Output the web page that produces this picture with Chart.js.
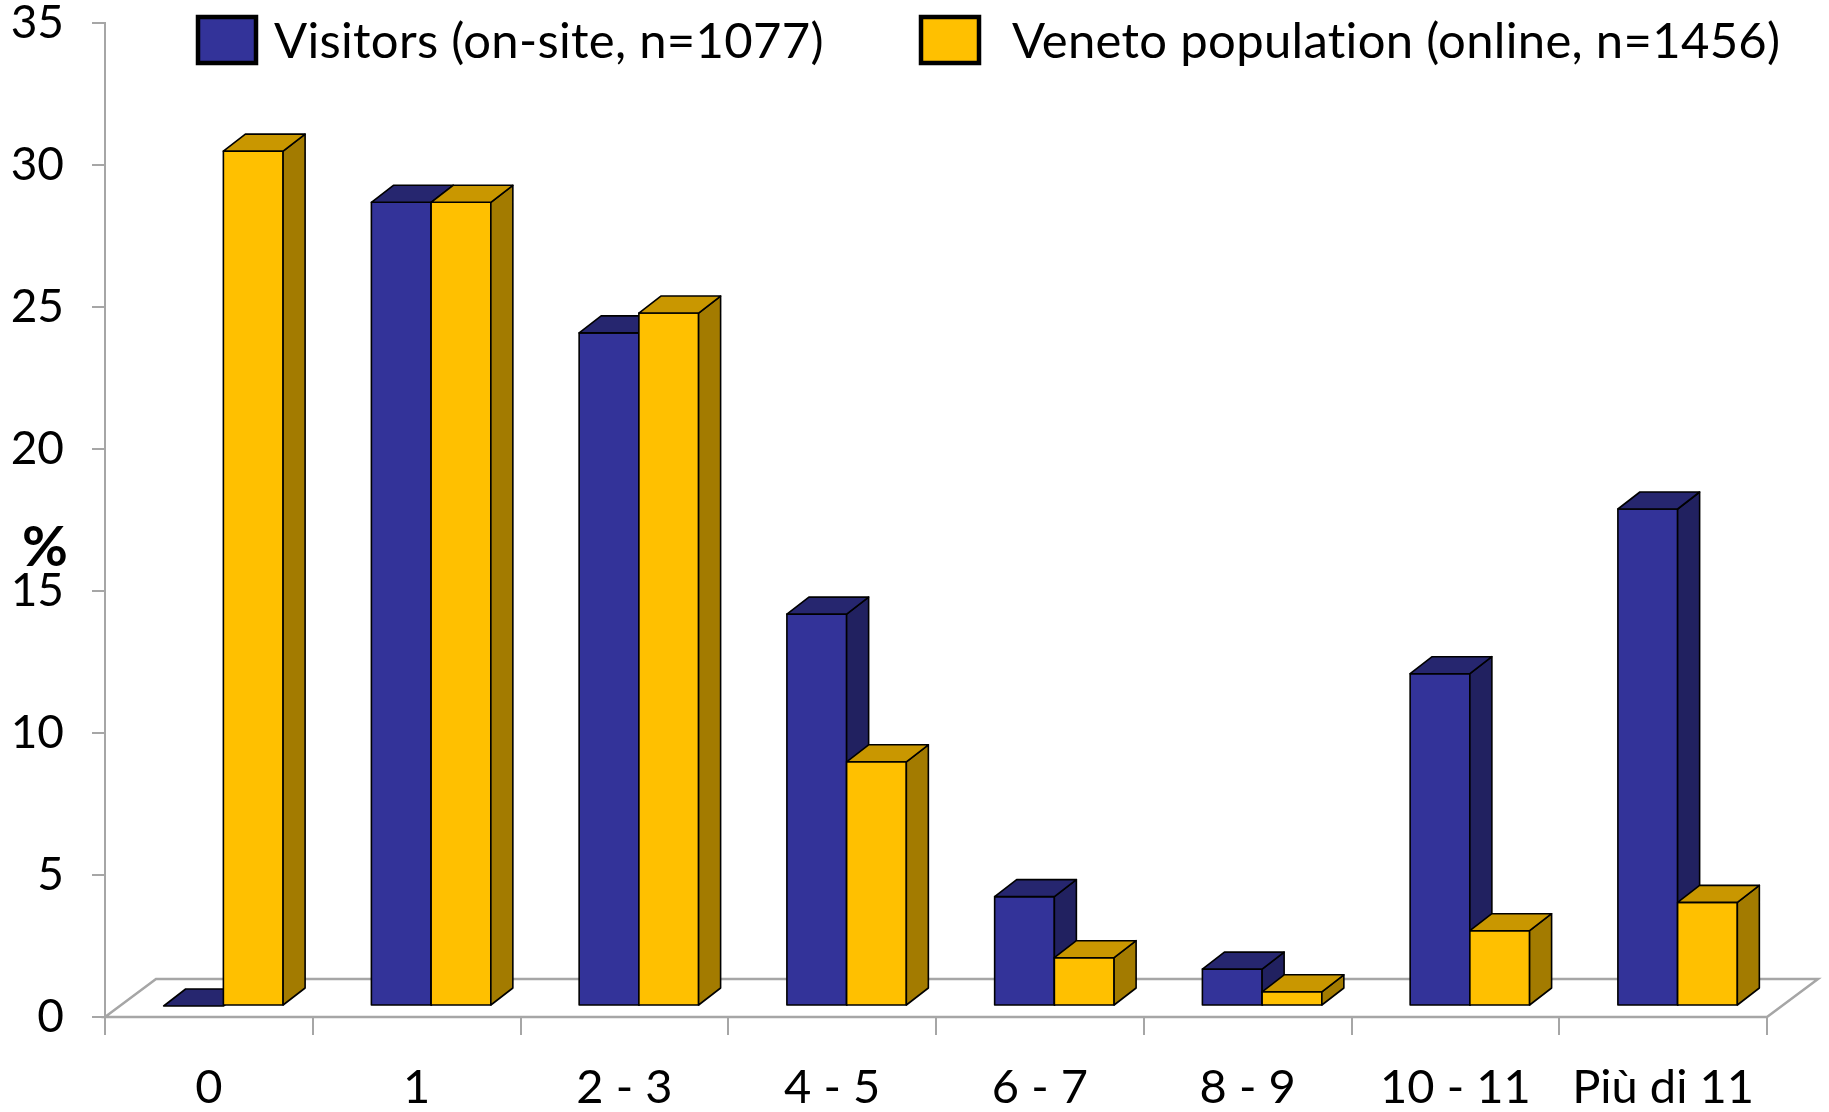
<!DOCTYPE html>
<html>
<head>
<meta charset="utf-8">
<script src="https://cdn.jsdelivr.net/npm/chart.js@4.4.1/dist/chart.umd.min.js"></script>
<style>
  html, body { margin: 0; padding: 0; background: #ffffff; }
  #wrap { width: 1829px; height: 1112px; }
</style>
</head>
<body>
<div id="wrap"><canvas id="c" width="1829" height="1112"></canvas></div>
<script>
// Number of visits, share of respondents (%)
const categories = ['0', '1', '2 - 3', '4 - 5', '6 - 7', '8 - 9', '10 - 11', 'Più di 11'];
const visitors = [0, 28.3, 23.7, 13.8, 3.85, 1.3, 11.7, 17.5];
const veneto = [30.1, 28.3, 24.4, 8.6, 1.7, 0.5, 2.65, 3.65];
const seriesNames = ['Visitors (on-site, n=1077)', 'Veneto population (online, n=1456)'];
const yTicks = [0, 5, 10, 15, 20, 25, 30, 35];

// Face colours per series: front, top, side
const faces = [
  { front: '#333399', top: '#26266f', side: '#212160' },
  { front: '#ffc000', top: '#c99700', side: '#a37b00' }
];

const FONT = 'Lato, "Open Sans", sans-serif';
const AXIS_GREY = '#a6a6a6';

// Perspective offsets (pixels): gap from floor front edge to the bar fronts,
// bar depth, and full floor depth.
const GAP = { dx: 14.5, dy: -11 };
const DEPTH = { dx: 22, dy: -17 };
const FLOOR = { dx: 51, dy: -38 };

function poly(ctx, pts, fill) {
  ctx.beginPath();
  ctx.moveTo(pts[0][0], pts[0][1]);
  for (let k = 1; k < pts.length; k++) ctx.lineTo(pts[k][0], pts[k][1]);
  ctx.closePath();
  ctx.fillStyle = fill;
  ctx.fill();
  ctx.stroke();
}

const boxes3d = {
  id: 'boxes3d',
  beforeDatasetsDraw(chart) {
    const { ctx, chartArea: a } = chart;
    const y0 = chart.scales.y.getPixelForValue(0);
    ctx.save();
    ctx.strokeStyle = AXIS_GREY;
    ctx.lineWidth = 2.5;
    ctx.lineJoin = 'miter';
    ctx.beginPath();
    ctx.moveTo(a.left, y0);
    ctx.lineTo(a.right, y0);
    ctx.lineTo(a.right + FLOOR.dx, y0 + FLOOR.dy);
    ctx.lineTo(a.left + FLOOR.dx, y0 + FLOOR.dy);
    ctx.closePath();
    ctx.stroke();
    ctx.restore();
  },
  beforeDatasetDraw() {
    return false;
  },
  afterDatasetsDraw(chart) {
    const { ctx } = chart;
    const metas = chart.data.datasets.map((d, i) => chart.getDatasetMeta(i));
    ctx.save();
    ctx.strokeStyle = '#000000';
    ctx.lineWidth = 1.6;
    ctx.lineJoin = 'round';
    for (let i = 0; i < categories.length; i++) {
      metas.forEach((meta, s) => {
        const el = meta.data[i];
        const f = faces[s];
        const x0 = el.x - el.width / 2 + GAP.dx;
        const x1 = el.x + el.width / 2 + GAP.dx;
        const yt = el.y + GAP.dy;
        const yb = el.base + GAP.dy;
        if (yb - yt > 0.5) {
          poly(ctx, [[x0, yt], [x1, yt], [x1, yb], [x0, yb]], f.front);
          poly(ctx, [[x1, yt], [x1 + DEPTH.dx, yt + DEPTH.dy], [x1 + DEPTH.dx, yb + DEPTH.dy], [x1, yb]], f.side);
        }
        poly(ctx, [[x0, yt], [x0 + DEPTH.dx, yt + DEPTH.dy], [x1 + DEPTH.dx, yt + DEPTH.dy], [x1, yt]], f.top);
      });
    }
    ctx.restore();
  },
  afterDraw(chart) {
    const { ctx } = chart;
    ctx.save();
    // legend
    const items = [
      { box: 198, text: 274 },
      { box: 921, text: 1012 }
    ];
    ctx.font = '49px ' + FONT;
    ctx.textRendering = 'optimizeSpeed';
    ctx.letterSpacing = '0.3px';
    ctx.textBaseline = 'middle';
    ctx.textAlign = 'left';
    chart.data.datasets.forEach((d, s) => {
      const it = items[s];
      ctx.fillStyle = d.backgroundColor;
      ctx.fillRect(it.box, 17, 58, 46);
      ctx.strokeStyle = '#000000';
      ctx.lineWidth = 4.5;
      ctx.strokeRect(it.box, 17, 58, 46);
      ctx.fillStyle = '#000000';
      ctx.fillText(d.label, it.text, 42);
    });
    // axis unit
    ctx.letterSpacing = '0px';
    ctx.font = 'bold 56px ' + FONT;
    ctx.textAlign = 'center';
    ctx.fillText('%', 45, 548);
    ctx.restore();
  }
};

new Chart(document.getElementById('c'), {
  type: 'bar',
  data: {
    labels: categories,
    datasets: [
      { label: seriesNames[0], data: visitors, backgroundColor: faces[0].front },
      { label: seriesNames[1], data: veneto, backgroundColor: faces[1].front }
    ]
  },
  options: {
    responsive: false,
    animation: false,
    events: [],
    layout: { padding: { top: 23, right: 62, left: 0, bottom: 0 } },
    datasets: { bar: { categoryPercentage: 0.575, barPercentage: 1 } },
    plugins: { legend: { display: false }, tooltip: { enabled: false } },
    scales: {
      x: {
        grid: { offset: true, drawOnChartArea: false, drawTicks: true, tickLength: 18, color: AXIS_GREY, lineWidth: 2 },
        border: { display: false },
        ticks: { color: '#000000', font: { family: FONT, size: 47 }, padding: 25, maxRotation: 0, autoSkip: false },
        afterFit(scale) { scale.height = 95; scale.paddingLeft = 0; scale.paddingRight = 0; }
      },
      y: {
        min: 0,
        max: 35,
        afterBuildTicks(scale) { scale.ticks = yTicks.map(v => ({ value: v })); },
        grid: { drawOnChartArea: false, drawTicks: true, tickLength: 13, color: AXIS_GREY, lineWidth: 2 },
        border: { display: true, color: AXIS_GREY, width: 2 },
        ticks: { color: '#000000', font: { family: FONT, size: 46 }, padding: 28 },
        afterFit(scale) { scale.width = 105; scale.paddingTop = 0; scale.paddingBottom = 0; }
      }
    }
  },
  plugins: [boxes3d]
});
</script>
</body>
</html>
